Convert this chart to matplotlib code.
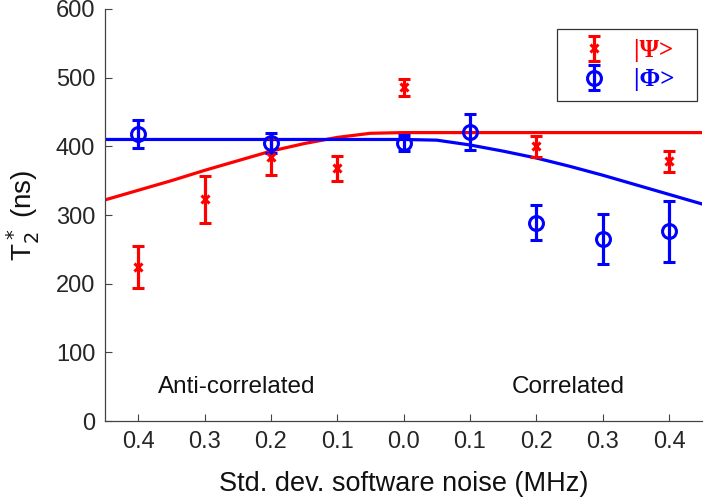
import matplotlib.pyplot as plt
import numpy as np

plt.rcParams['font.family'] = ['Liberation Sans', 'DejaVu Sans']

# signed noise axis: negative = anti-correlated, positive = correlated
psi_x = [-0.4, -0.3, -0.2, -0.1, 0.0, 0.2, 0.4]
psi_y = [224, 323, 385, 368, 486, 400, 378]
psi_err = [31, 34, 27, 18, 12, 15, 15]

phi_x = [-0.4, -0.2, 0.0, 0.1, 0.2, 0.3, 0.4]
phi_y = [418, 405, 405, 421, 289, 265, 276]
phi_err = [20, 15, 12, 26, 25, 37, 44]

# fitted curves
psi_fit_x = [-0.45, -0.4, -0.35, -0.3, -0.25, -0.2, -0.15, -0.1, -0.05, 0.0, 0.45]
psi_fit_y = [322, 336, 350, 365, 379, 393, 404, 413, 419, 420, 420]
phi_fit_x = [-0.45, 0.0, 0.05, 0.1, 0.15, 0.2, 0.25, 0.3, 0.35, 0.4, 0.45]
phi_fit_y = [410, 410, 409, 402, 393, 383, 371, 358, 344, 330, 316]

tick_pos = [-0.4, -0.3, -0.2, -0.1, 0.0, 0.1, 0.2, 0.3, 0.4]
tick_lab = ['0.4', '0.3', '0.2', '0.1', '0.0', '0.1', '0.2', '0.3', '0.4']

red = '#ff0000'
blue = '#0000ff'

fig = plt.figure(figsize=(7.05, 5.0), dpi=100)
ax = fig.add_axes([0.149, 0.158, 0.847, 0.824])

ax.plot(psi_fit_x, psi_fit_y, color=red, lw=2.3)
ax.plot(phi_fit_x, phi_fit_y, color=blue, lw=2.3)

e1 = ax.errorbar(psi_x, psi_y, yerr=psi_err, fmt='x', color=red, ms=6, mew=2.2,
                 elinewidth=2.3, capsize=4, capthick=2.3, label='|Ψ>  ')
e2 = ax.errorbar(phi_x, phi_y, yerr=phi_err, fmt='o', color=blue, ms=10, mew=2.2,
                 mfc='none', elinewidth=2.3, capsize=4, capthick=2.3, label='|Φ>  ')

ax.text(-0.252, 49, 'Anti-correlated', fontsize=17.5, ha='center', va='center', color='#111111')
ax.text(0.248, 49, 'Correlated', fontsize=17.5, ha='center', va='center', color='#111111')

ax.set_xlim(-0.45, 0.45)
ax.set_ylim(0, 600)
ax.set_xticks(tick_pos)
ax.set_xticklabels(tick_lab)
ax.set_yticks(np.arange(0, 601, 100))
ax.tick_params(direction='in', length=5, width=0.8, labelsize=17, colors='#444444',
               labelcolor='#262626')
ax.tick_params(axis='y', pad=7)
ax.tick_params(axis='x', pad=7)
for s in ['top', 'right']:
    ax.spines[s].set_visible(False)
for s in ['left', 'bottom']:
    ax.spines[s].set_color('#444444')
    ax.spines[s].set_linewidth(0.9)

ax.set_xlabel('Std. dev. software noise (MHz)', fontsize=19.5, color='#111111', labelpad=13)
ax.set_ylabel('T$_2^*$ (ns)', fontsize=20, color='#111111', labelpad=10)

leg = ax.legend(handles=[e1, e2], loc='upper right', bbox_to_anchor=(0.992, 0.951),
                borderaxespad=0, fancybox=False, framealpha=1, edgecolor='#333333',
                fontsize=18, handlelength=2.15, handletextpad=0.55, borderpad=0.4,
                labelspacing=0.25)
leg.get_frame().set_linewidth(0.9)
for t, c in zip(leg.get_texts(), [red, blue]):
    t.set_color(c)
    t.set_fontweight('bold')
    t.set_family(['Liberation Serif', 'DejaVu Serif'])

fig.savefig('out.png', dpi=100)
